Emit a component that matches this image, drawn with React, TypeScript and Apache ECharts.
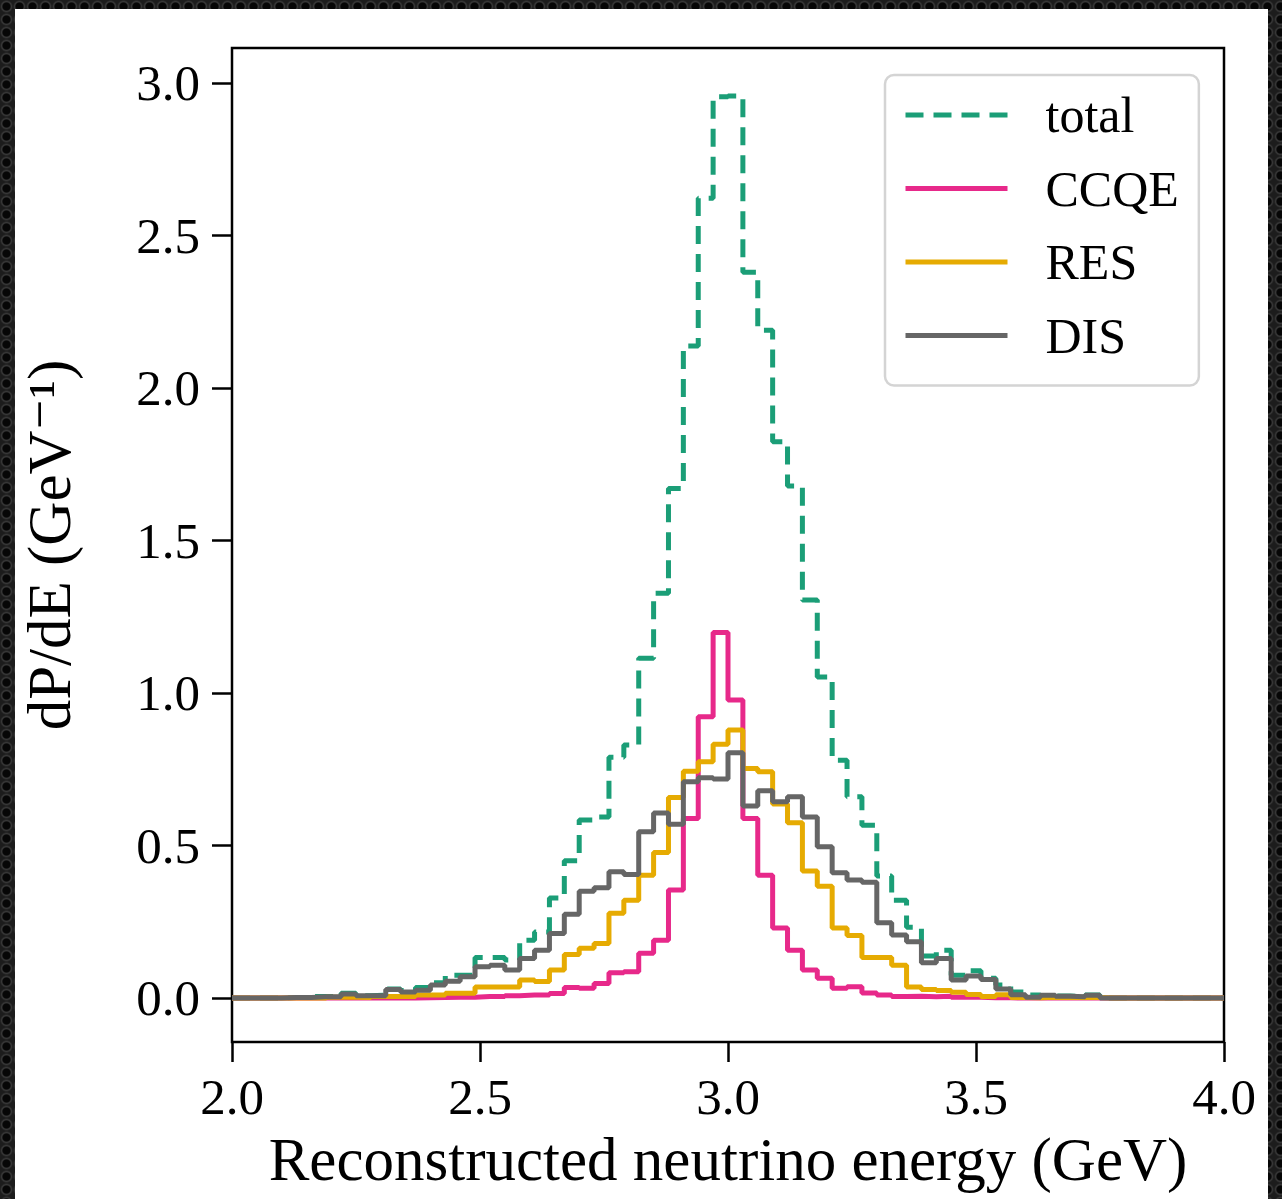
import React, { useEffect, useRef } from "react";
import * as echarts from "echarts";

// Histogram bins: left edges start at binStart, width binWidth (GeV)
const binStart = 2.1;
const binWidth = 0.03;

const totalValues = [
  0.002, 0.002, 0.005, 0.005, 0.016, 0.008, 0.01, 0.03, 0.025, 0.035,
  0.05, 0.075, 0.075, 0.133, 0.133, 0.125, 0.19, 0.217, 0.328, 0.45,
  0.584, 0.594, 0.79, 0.83, 1.114, 1.327, 1.671, 2.138, 2.622, 2.955,
  2.958, 2.38, 2.19, 1.824, 1.679, 1.305, 1.053, 0.78, 0.66, 0.567,
  0.4, 0.321, 0.232, 0.138, 0.157, 0.075, 0.09, 0.065, 0.043, 0.02,
  0.01, 0.007, 0.007, 0.005, 0.01, 0,
];

const ccqeValues = [
  0, 0, 0, 0, 0, 0, 0, 0, 0, 0.001,
  0.002, 0.003, 0.003, 0.005, 0.005, 0.008, 0.01, 0.01, 0.015, 0.035,
  0.032, 0.048, 0.083, 0.086, 0.147, 0.19, 0.354, 0.589, 0.922, 1.199,
  0.977, 0.589, 0.403, 0.23, 0.157, 0.092, 0.065, 0.032, 0.037, 0.017,
  0.01, 0.005, 0.006, 0.004, 0.006, 0.003, 0.003, 0.001, 0.001, 0,
  0, 0, 0, 0, 0, 0,
];

const resValues = [
  0, 0, 0, 0.003, 0.003, 0.002, 0.005, 0.005, 0.005, 0.01,
  0.01, 0.016, 0.016, 0.036, 0.036, 0.036, 0.059, 0.054, 0.092, 0.143,
  0.163, 0.179, 0.278, 0.321, 0.403, 0.477, 0.658, 0.744, 0.775, 0.832,
  0.879, 0.753, 0.742, 0.636, 0.575, 0.417, 0.367, 0.23, 0.205, 0.133,
  0.133, 0.108, 0.036, 0.028, 0.025, 0.019, 0.012, 0.005, 0.011, 0.002,
  0.001, 0.003, 0.002, 0.003, 0.002, 0,
];

const disValues = [
  0.002, 0.002, 0.004, 0.004, 0.013, 0.008, 0.008, 0.028, 0.02, 0.026,
  0.043, 0.055, 0.07, 0.103, 0.108, 0.092, 0.13, 0.157, 0.212, 0.275,
  0.35, 0.362, 0.414, 0.405, 0.545, 0.607, 0.57, 0.709, 0.722, 0.718,
  0.804, 0.63, 0.68, 0.644, 0.66, 0.594, 0.496, 0.411, 0.387, 0.38,
  0.247, 0.207, 0.185, 0.116, 0.13, 0.059, 0.072, 0.061, 0.03, 0.011,
  0.003, 0.009, 0.006, 0.004, 0.009, 0,
];

const seriesNames = ["total", "CCQE", "RES", "DIS"];
const seriesColors = ["#1b9e77", "#e7298a", "#e6ab02", "#666666"];
const xTicks = [2.0, 2.5, 3.0, 3.5, 4.0];
const yTicks = [0, 0.5, 1.0, 1.5, 2.0, 2.5, 3.0];
const xRange = [2.0, 4.0];
const yRange = [-0.144, 3.115];

const FONT = "'Liberation Serif', 'DejaVu Serif', serif";

function stepData(values: number[]): number[][] {
  const pts: number[][] = [[xRange[0], 0]];
  values.forEach((v, i) => {
    pts.push([+(binStart + i * binWidth).toFixed(4), v]);
  });
  pts.push([+(binStart + values.length * binWidth).toFixed(4), 0]);
  pts.push([xRange[1], 0]);
  return pts;
}

export default function App() {
  const ref = useRef<HTMLDivElement>(null);

  useEffect(() => {
    if (!ref.current) return;
    const chart = echarts.init(ref.current, undefined, { renderer: "svg" });
    const allValues = [totalValues, ccqeValues, resValues, disValues];

    chart.setOption({
      animation: false,
      backgroundColor: "transparent",
      grid: {
        left: 232,
        top: 48,
        right: 58,
        bottom: 157,
        show: true,
        borderColor: "#000",
        borderWidth: 2.5,
        backgroundColor: "transparent",
      },
      legend: {
        orient: "vertical",
        left: 885,
        top: 75,
        data: seriesNames,
        itemWidth: 102,
        itemHeight: 14,
        itemGap: 19.5,
        padding: [13, 20, 23, 18],
        backgroundColor: "rgba(255,255,255,0.85)",
        borderColor: "#d4d4d4",
        borderWidth: 2.5,
        borderRadius: 9,
        itemStyle: { opacity: 0, color: "rgba(0,0,0,0)", borderWidth: 0 },
        lineStyle: { width: 5 },
        textStyle: {
          fontFamily: FONT,
          fontSize: 50,
          lineHeight: 54,
          color: "#000",
          padding: [0, 0, 0, 33],
        },
      },
      xAxis: {
        type: "value",
        min: xRange[0],
        max: xRange[1],
        interval: 0.5,
        name: "Reconstructed neutrino energy (GeV)",
        nameLocation: "middle",
        nameGap: 87,
        nameTextStyle: { fontFamily: FONT, fontSize: 61, color: "#000" },
        axisLine: { show: false, onZero: false },
        axisTick: {
          show: true,
          length: 20,
          lineStyle: { color: "#000", width: 2.5 },
          customValues: xTicks,
        },
        axisLabel: {
          fontFamily: FONT,
          fontSize: 51,
          color: "#000",
          margin: 29,
          customValues: xTicks,
          formatter: (v: number) => v.toFixed(1),
        },
        splitLine: { show: false },
      },
      yAxis: {
        type: "value",
        min: yRange[0],
        max: yRange[1],
        name: "dP/dE (GeV⁻¹)",
        nameLocation: "middle",
        nameGap: 152,
        nameRotate: 90,
        nameTextStyle: { fontFamily: FONT, fontSize: 61, color: "#000" },
        axisLine: { show: false, onZero: false },
        axisTick: {
          show: true,
          length: 20,
          lineStyle: { color: "#000", width: 2.5 },
          customValues: yTicks,
        },
        axisLabel: {
          fontFamily: FONT,
          fontSize: 51,
          color: "#000",
          margin: 32,
          customValues: yTicks,
          formatter: (v: number) => v.toFixed(1),
        },
        splitLine: { show: false },
      },
      series: seriesNames.map((name, i) => ({
        name,
        type: "line",
        step: "end",
        symbol: "none",
        data: stepData(allValues[i]),
        z: 2 + i,
        lineStyle: {
          color: seriesColors[i],
          width: 5,
          type: i === 0 ? [18, 10] : "solid",
        },
        itemStyle: { color: seriesColors[i] },
      })),
    });

    return () => chart.dispose();
  }, []);

  return (
    <div
      style={{
        position: "absolute",
        left: 0,
        top: 0,
        width: 1282,
        height: 1199,
        overflow: "hidden",
        backgroundColor: "#1c1c1c",
        backgroundImage:
          "radial-gradient(circle at 50% 50%, #060606 0px, #060606 3.5px, #3a3a3a 4.8px, #1c1c1c 6.5px)",
        backgroundSize: "13px 13px",
      }}
    >
      <div
        style={{
          position: "absolute",
          left: 15,
          top: 9,
          width: 1253,
          height: 1190,
          background: "#fff",
        }}
      />
      <div
        ref={ref}
        style={{ position: "absolute", left: 0, top: 0, width: 1282, height: 1199 }}
      />
    </div>
  );
}
